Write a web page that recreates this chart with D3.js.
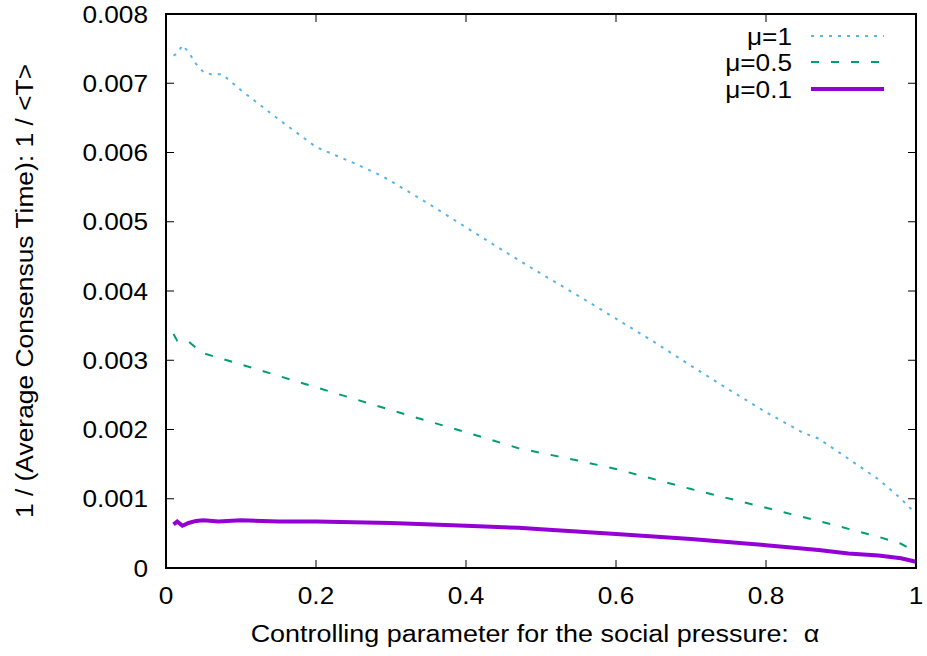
<!DOCTYPE html>
<html><head><meta charset="utf-8">
<script src="https://cdn.jsdelivr.net/npm/d3@7"></script>
<style>body{margin:0;background:#fff}svg{display:block}text{font-family:"Liberation Sans",Arial,sans-serif;fill:#000}</style>
</head><body>
<script>
const alpha1 = [0.01,0.015,0.022,0.03,0.04,0.05,0.06,0.075,0.1,0.15,0.2,0.25,0.29,0.35,0.4,0.45,0.5,0.55,0.6,0.65,0.7,0.75,0.8,0.85,0.87,0.9,0.95,0.98,1.0];
const mu1 = [0.00740,0.00743,0.00755,0.00745,0.00728,0.00716,0.00713,0.00713,0.00690,0.00648,0.00608,0.00585,0.00565,0.00526,0.00492,0.00458,0.00425,0.00393,0.00360,0.00327,0.00292,0.00258,0.00225,0.00195,0.00187,0.00165,0.00128,0.00100,0.00078];
const alpha05 = [0.01,0.015,0.03,0.04,0.05,0.1,0.2,0.3,0.4,0.47,0.55,0.6,0.7,0.8,0.87,0.95,0.98,1.0];
const mu05 = [0.00338,0.00328,0.00327,0.00318,0.00310,0.00294,0.00261,0.00228,0.00196,0.00173,0.00155,0.00143,0.00114,0.00087,0.00068,0.00045,0.00035,0.00023];
const alpha01 = [0.01,0.015,0.022,0.03,0.04,0.05,0.07,0.1,0.15,0.2,0.3,0.4,0.47,0.5,0.6,0.7,0.8,0.87,0.91,0.95,0.98,1.0];
const mu01 = [0.00063,0.00067,0.00061,0.00065,0.00068,0.00069,0.00067,0.00069,0.00067,0.00067,0.00065,0.00061,0.00058,0.00056,0.00049,0.00042,0.00033,0.00026,0.00021,0.00018,0.00014,0.00009];
const xTicks = [0,0.2,0.4,0.6,0.8,1];
const yTicks = [0,0.001,0.002,0.003,0.004,0.005,0.006,0.007,0.008];
const seriesNames = ["μ=1","μ=0.5","μ=0.1"];
const seriesColors = ["#56b4e9","#009e73","#9400d3"];

const W=927,H=656;
const L=166,R=916,T=14,B=568;
const svg=d3.select("body").append("svg").attr("width",W).attr("height",H);
const x=d3.scaleLinear().domain([0,1]).range([L,R]);
const y=d3.scaleLinear().domain([0,0.008]).range([B,T]);
const fs=23, sx=1.14;

function txt(px,py,s,anchor,size,scale,rot){
  return svg.append("text")
    .attr("transform",`translate(${px},${py})`+(rot?` rotate(${rot})`:"")+` scale(${scale},1)`)
    .attr("text-anchor",anchor).attr("font-size",size).text(s);
}

// ticks
const tk=8;
const g=svg.append("g").attr("stroke","#000").attr("stroke-width",1);
xTicks.forEach(v=>{
  g.append("line").attr("x1",x(v)).attr("x2",x(v)).attr("y1",B).attr("y2",B-tk);
  g.append("line").attr("x1",x(v)).attr("x2",x(v)).attr("y1",T).attr("y2",T+tk);
});
yTicks.forEach(v=>{
  g.append("line").attr("x1",L).attr("x2",L+tk).attr("y1",y(v)).attr("y2",y(v));
  g.append("line").attr("x1",R).attr("x2",R-tk).attr("y1",y(v)).attr("y2",y(v));
});
xTicks.forEach(v=>txt(x(v),B+36,d3.format("")(v),"middle",fs,sx));
yTicks.forEach(v=>txt(L-18,y(v)+8.5,v===0?"0":d3.format(".3f")(v),"end",fs,sx));

const line=d3.line().x(d=>x(d[0])).y(d=>y(d[1]));
const data=[d3.zip(alpha1,mu1),d3.zip(alpha05,mu05),d3.zip(alpha01,mu01)];
const dash=["3,6","8,12",null];
const widths=[2,2,4];
data.forEach((d,i)=>{
  const p=svg.append("path").datum(d).attr("d",line).attr("fill","none")
    .attr("stroke",seriesColors[i]).attr("stroke-width",widths[i]);
  if(dash[i]) p.attr("stroke-dasharray",dash[i]);
});

// frame
svg.append("rect").attr("x",L).attr("y",T).attr("width",R-L).attr("height",B-T)
  .attr("fill","none").attr("stroke","#000").attr("stroke-width",2);

// legend
const ly=[36,62,89];
seriesNames.forEach((n,i)=>{
  txt(792,ly[i]+8.5,n,"end",fs,sx);
  const l=svg.append("line").attr("x1",811).attr("x2",884).attr("y1",ly[i]).attr("y2",ly[i])
    .attr("stroke",seriesColors[i]).attr("stroke-width",widths[i]);
  if(dash[i]) l.attr("stroke-dasharray",dash[i]);
});

txt((L+R)/2-6,642,"Controlling parameter for the social pressure:  α","middle",23,1.17).attr("xml:space","preserve").style("white-space","pre");
txt(33,291,"1 / (Average Consensus Time): 1 / <T>","middle",24,1.1,-90);
</script>
</body></html>
